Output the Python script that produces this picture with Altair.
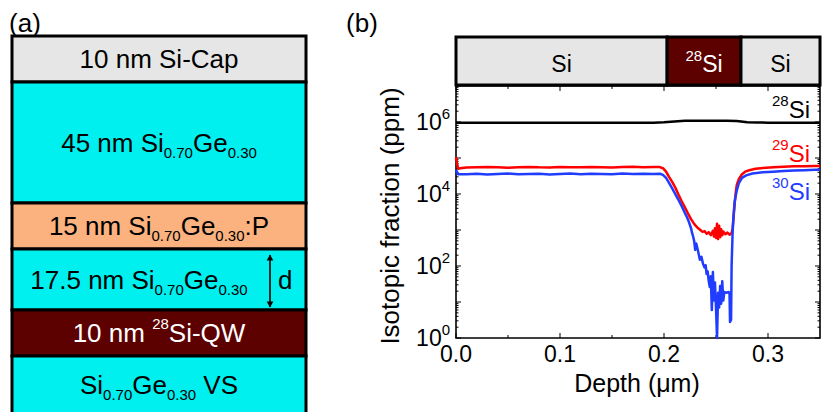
import altair as alt
import pandas as pd

FONT = "Liberation Sans"

# ------------------------------------------------------------------ data
# panel (a): layer stack (schematic thickness units, not to scale)
stack_units = [46, 121, 46, 61, 46, 58]
stack_fill = ["#e6e6e6", "#00f0f0", "#fbb27f", "#00f0f0", "#5c0000", "#00f0f0"]
stack_text_color = ["black", "black", "black", "black", "white", "black"]
stack_labels = [
    [("10 nm Si-Cap", "n")],
    [("45 nm Si", "n"), ("0.70", "sub"), ("Ge", "n"), ("0.30", "sub")],
    [("15 nm Si", "n"), ("0.70", "sub"), ("Ge", "n"), ("0.30", "sub"), (":P", "n")],
    [("17.5 nm Si", "n"), ("0.70", "sub"), ("Ge", "n"), ("0.30", "sub")],
    [("10 nm ", "n"), ("28", "sup"), ("Si-QW", "n")],
    [("Si", "n"), ("0.70", "sub"), ("Ge", "n"), ("0.30", "sub"), (" VS", "n")],
]
d_layer = 3  # the layer marked with the "d" arrow

# panel (b): top bar
bar_start = [0.0, 0.203, 0.274]
bar_end = [0.203, 0.274, 0.35]
bar_fill = ["#e6e6e6", "#5c0000", "#e6e6e6"]
bar_text_color = ["black", "white", "black"]
bar_labels = [[("Si", "n")], [("28", "sup"), ("Si", "n")], [("Si", "n")]]

# axes
x_major = [0.0, 0.1, 0.2, 0.3]
x_minor = [0.05, 0.15, 0.25]
x_tick_labels = ["0.0", "0.1", "0.2", "0.3"]
y_decades = [0, 1, 2, 3, 4, 5, 6, 7]
y_label_decades = [0, 2, 4, 6]

# depth profiles (ppm)
depth_28 = [0.000, 0.050, 0.100, 0.150, 0.190, 0.200, 0.210, 0.220, 0.240,
            0.260, 0.270, 0.280, 0.290, 0.300, 0.320, 0.340, 0.350]
ppm_28 = [960000, 960000, 955000, 960000, 960000, 985000, 1040000, 1080000, 1090000,
          1090000, 1060000, 990000, 965000, 960000, 960000, 955000, 950000]

depth_29 = [0.000, 0.001, 0.002, 0.004, 0.010, 0.020, 0.030, 0.040, 0.050, 0.060,
            0.070, 0.080, 0.090, 0.100, 0.110, 0.120, 0.130, 0.140, 0.150, 0.160,
            0.170, 0.180, 0.190, 0.196, 0.199, 0.202, 0.205, 0.208, 0.211, 0.214,
            0.217, 0.220, 0.223, 0.226, 0.229, 0.232, 0.235, 0.237, 0.239, 0.241,
            0.243, 0.245, 0.247, 0.248, 0.249, 0.250, 0.251, 0.252, 0.253, 0.254,
            0.255, 0.256, 0.257, 0.259, 0.261, 0.263, 0.265, 0.266, 0.267, 0.268,
            0.269, 0.270, 0.272, 0.275, 0.278, 0.282, 0.288, 0.295, 0.305, 0.315,
            0.325, 0.335, 0.345, 0.350]
ppm_29 = [107000, 71000, 50000, 52000, 54500, 55500, 56000, 55000, 54000, 55500,
          56500, 55000, 54500, 56000, 55500, 55000, 56500, 55500, 54500, 56000,
          57000, 55500, 56000, 56000, 52000, 42000, 29500, 21400, 14800, 9500,
          6300, 4300, 2900, 2000, 1480, 1170, 1000, 890, 930, 790,
          870, 720, 950, 660, 1120, 600, 1500, 560, 1320, 630,
          1050, 710, 910, 760, 850, 740, 830, 1120, 2500, 5600,
          11200, 17800, 26300, 35500, 41700, 45700, 50100, 52500, 55000, 57500,
          59000, 59000, 60000, 60000]

depth_30 = [0.000, 0.001, 0.002, 0.004, 0.010, 0.020, 0.030, 0.040, 0.050, 0.060,
            0.070, 0.080, 0.090, 0.100, 0.110, 0.120, 0.130, 0.140, 0.150, 0.160,
            0.170, 0.180, 0.190, 0.196, 0.199, 0.202, 0.205, 0.208, 0.211, 0.214,
            0.217, 0.220, 0.222, 0.224, 0.226, 0.227, 0.228, 0.229, 0.230, 0.231,
            0.232, 0.233, 0.2345, 0.236, 0.2375, 0.239, 0.240, 0.241, 0.242, 0.243,
            0.244, 0.245, 0.246, 0.247, 0.248, 0.249, 0.250, 0.251, 0.252, 0.253,
            0.254, 0.255, 0.256, 0.257, 0.258, 0.260, 0.262, 0.263, 0.2635, 0.2645,
            0.265, 0.266, 0.267, 0.268, 0.270, 0.272, 0.275, 0.279, 0.285, 0.295,
            0.305, 0.315, 0.325, 0.335, 0.345, 0.350]
ppm_30 = [47000, 40000, 35500, 35500, 35500, 36500, 35000, 36000, 37000, 35500,
          36000, 36500, 35000, 36000, 37000, 35500, 36500, 36000, 35500, 37000,
          36000, 36500, 36000, 36500, 34000, 28000, 20000, 14100, 9800, 6800,
          4600, 3000, 2300, 1660, 1120, 830, 660, 500, 280, 420,
          320, 240, 150, 180, 115, 91, 105, 60, 71, 38,
          26, 52, 6, 68, 11, 35, 7, 1, 18, 7,
          28, 9, 38, 11, 19, 18, 19, 18, 2.8, 3.2,
          100, 890, 2800, 6300, 12600, 20000, 28000, 33000, 37000, 40000,
          41700, 43600, 44700, 45700, 46800, 46800]

series = [("28", depth_28, ppm_28, "black"),
          ("29", depth_29, ppm_29, "#ff0000"),
          ("30", depth_30, ppm_30, "#1f3cff")]

# ------------------------------------------------------------------ layout
A_X = [4, 298]
A_Y = [28, 406]
B_X = [448, 812]
B_Y = [330, 78]
BAR_Y = [29, 77]

AX = alt.Scale(domain=[0, A_X[1] - A_X[0]], range=A_X, nice=False, zero=False)
AY = alt.Scale(domain=[0, sum(stack_units)], range=A_Y, nice=False, zero=False)
BX = alt.Scale(domain=[bar_start[0], bar_end[-1]], range=B_X, nice=False, zero=False)
BY = alt.Scale(type="log", domain=[10 ** y_decades[0], 10 ** y_decades[-1]],
               range=B_Y, nice=False)

PX_PER_DEPTH = (B_X[1] - B_X[0]) / (bar_end[-1] - bar_start[0])
PX_PER_DEC = (B_Y[0] - B_Y[1]) / (y_decades[-1] - y_decades[0])


def depth_at(px):
    return bar_start[0] + (px - B_X[0]) / PX_PER_DEPTH


def depth_px(d):
    return B_X[0] + (d - bar_start[0]) * PX_PER_DEPTH


def ppm_at(py):
    return 10 ** (y_decades[0] + (B_Y[0] - py) / PX_PER_DEC)


# Arial / Liberation Sans advance widths (1/1000 em)
WID = {" ": 278, "(": 333, ")": 333, "-": 333, ".": 278, ":": 278, "I": 278,
       "C": 722, "D": 722, "G": 778, "P": 667, "Q": 778, "S": 667, "V": 667,
       "W": 944, "a": 556, "b": 556, "c": 500, "d": 556, "e": 556, "f": 278,
       "h": 556, "i": 222, "m": 833, "n": 556, "o": 556, "p": 556, "r": 333,
       "s": 500, "t": 278, "\u03bc": 576}
for _d in "0123456789":
    WID[_d] = 556


def tw(t, size):
    return sum(WID.get(c, 556) for c in t) * size / 1000.0


def rich(segs, size, small, align):
    out = []
    x = 0.0
    for text, kind in segs:
        fs = size if kind == "n" else small
        dy = 0.0 if kind == "n" else (0.23 * size if kind == "sub" else -0.5 * size)
        lead = len(text) - len(text.lstrip(" "))
        x += tw(" " * lead, fs)
        body = text.strip(" ")
        out.append([x, dy, body, fs])
        x += tw(text[lead:], fs)
    shift = {"left": 0.0, "center": -x / 2.0, "right": -x}[align]
    for o in out:
        o[0] += shift
    return out


def text_layer(rows, xs, ys):
    df = pd.DataFrame(rows)
    return alt.Chart(df).mark_text(font=FONT, align="left", baseline="alphabetic").encode(
        x=alt.X("x:Q", scale=xs, axis=None),
        y=alt.Y("y:Q", scale=ys, axis=None),
        text="text:N",
        size=alt.Size("size:Q", scale=None, legend=None),
        color=alt.Color("color:N", scale=None, legend=None),
    )


layers = []

# ------------------------------------------------------------------ panel (a)
tops, bots = [], []
acc = 0
for u in stack_units:
    tops.append(acc)
    acc += u
    bots.append(acc)
A_W = A_X[1] - A_X[0]
stack_df = pd.DataFrame({"x": [0] * len(stack_units), "x2": [A_W] * len(stack_units),
                         "y": tops, "y2": bots, "fill": stack_fill})
layers.append(alt.Chart(stack_df).mark_rect(stroke="black", strokeWidth=3).encode(
    x=alt.X("x:Q", scale=AX, axis=None), x2="x2:Q",
    y=alt.Y("y:Q", scale=AY, axis=None), y2="y2:Q",
    fill=alt.Fill("fill:N", scale=None, legend=None)))

S_A, s_A = 26, 15
rows_a = []
for i in range(len(stack_units)):
    mid = (tops[i] + bots[i]) / 2.0
    cx = A_W / 2.0 - (20 if i == d_layer else 0)
    for dx, dy, t, fs in rich(stack_labels[i], S_A, s_A, "center"):
        rows_a.append(dict(x=cx + dx, y=mid + 0.358 * S_A + dy, text=t, size=fs,
                           color=stack_text_color[i]))
# "d" label
mid_d = (tops[d_layer] + bots[d_layer]) / 2.0
rows_a.append(dict(x=A_W - 28, y=mid_d + 0.358 * S_A, text="d", size=S_A, color="black"))
# "(a)"
for dx, dy, t, fs in rich([("(a)", "n")], 26, 26, "center"):
    rows_a.append(dict(x=13 + dx, y=-4 + dy, text=t, size=fs, color="black"))

# double arrow
arrow_x = A_W - 36
arr_df = pd.DataFrame({"x": [arrow_x], "y": [tops[d_layer] + 6], "y2": [bots[d_layer] - 3]})
layers.append(alt.Chart(arr_df).mark_rule(color="black", strokeWidth=1.6).encode(
    x=alt.X("x:Q", scale=AX, axis=None), y=alt.Y("y:Q", scale=AY, axis=None), y2="y2:Q"))
head_df = pd.DataFrame({"x": [arrow_x, arrow_x],
                        "y": [tops[d_layer] + 8.5, bots[d_layer] - 5.5],
                        "shape": ["triangle-up", "triangle-down"]})
layers.append(alt.Chart(head_df).mark_point(filled=True, color="black", size=45, opacity=1).encode(
    x=alt.X("x:Q", scale=AX, axis=None), y=alt.Y("y:Q", scale=AY, axis=None),
    shape=alt.Shape("shape:N", scale=None, legend=None)))

layers.append(text_layer(rows_a, AX, AY))

# ------------------------------------------------------------------ panel (b)
frame_df = pd.DataFrame({"x": [bar_start[0]], "x2": [bar_end[-1]]})
layers.append(alt.Chart(frame_df).mark_rect(fillOpacity=0, stroke="black", strokeWidth=1.6).encode(
    x=alt.X("x:Q", scale=BX, axis=None), x2="x2:Q",
    y=alt.value(B_Y[1]), y2=alt.value(B_Y[0])))


def xticks(vals, length):
    d = pd.DataFrame({"depth": vals})
    out = []
    for y0, y1 in [(B_Y[0], B_Y[0] - length), (B_Y[1], B_Y[1] + length)]:
        out.append(alt.Chart(d).mark_rule(color="black", strokeWidth=1).encode(
            x=alt.X("depth:Q", scale=BX, axis=None), y=alt.value(y0), y2=alt.value(y1)))
    return out


def yticks(vals, length):
    d = pd.DataFrame({"ppm": vals})
    out = []
    for x0, x1 in [(B_X[0], B_X[0] + length), (B_X[1], B_X[1] - length)]:
        out.append(alt.Chart(d).mark_rule(color="black", strokeWidth=1).encode(
            y=alt.Y("ppm:Q", scale=BY, axis=None), x=alt.value(x0), x2=alt.value(x1)))
    return out


layers += xticks(x_major, 5)
layers += xticks(x_minor, 3)
layers += yticks([10 ** k for k in y_decades], 5)
layers += yticks([m * 10 ** k for k in y_decades[:-1] for m in range(2, 10)], 2.5)

for name, dep, val, col in series:
    assert len(dep) == len(val)
    df = pd.DataFrame({"depth": dep, "ppm": val})
    layers.append(alt.Chart(df).mark_line(color=col, strokeWidth=2.5, interpolate="linear",
                                          strokeJoin="round").encode(
        x=alt.X("depth:Q", scale=BX, axis=None),
        y=alt.Y("ppm:Q", scale=BY, axis=None)))

# top bar
bar_df = pd.DataFrame({"x": bar_start, "x2": bar_end, "fill": bar_fill})
layers.append(alt.Chart(bar_df).mark_rect(stroke="black", strokeWidth=3).encode(
    x=alt.X("x:Q", scale=BX, axis=None), x2="x2:Q",
    y=alt.value(BAR_Y[0]), y2=alt.value(BAR_Y[1]),
    fill=alt.Fill("fill:N", scale=None, legend=None)))

rows_b = []


def add_b(segs, size, small, align, ax_px, base_py, color):
    for dx, dy, t, fs in rich(segs, size, small, align):
        rows_b.append(dict(x=depth_at(ax_px + dx), y=ppm_at(base_py + dy), text=t,
                           size=fs, color=color))


for i in range(len(bar_start)):
    cpx = depth_px((bar_start[i] + bar_end[i]) / 2.0)
    add_b(bar_labels[i], 23, 15, "center", cpx, 64, bar_text_color[i])

# series labels
label_base = {"28": 110, "29": 154, "30": 192}
for name, dep, val, col in series:
    add_b([(name, "sup"), ("Si", "n")], 24, 15, "right", B_X[1] - 10, label_base[name], col)

# y tick labels
for k in y_label_decades:
    tick_py = B_Y[0] - (k - y_decades[0]) * PX_PER_DEC
    add_b([("10", "n"), (str(k), "sup")], 23, 15, "right", B_X[0] - 6, tick_py + 8, "black")

# x tick labels
for v, lab in zip(x_major, x_tick_labels):
    add_b([(lab, "n")], 23, 23, "center", depth_px(v), B_Y[0] + 24, "black")

# x title
add_b([("Depth (\u03bcm)", "n")], 25, 25, "center", 629, B_Y[0] + 54, "black")
# "(b)"
add_b([("(b)", "n")], 26, 26, "center", 354, 24, "black")

layers.append(text_layer(rows_b, BX, BY))

# y title (rotated)
ytitle_df = pd.DataFrame({"x": [depth_at(383)], "y": [ppm_at(208)],
                          "text": ["Isotopic fraction (ppm)"]})
layers.append(alt.Chart(ytitle_df).mark_text(
    font=FONT, fontSize=26, angle=270, align="center", baseline="middle", color="black").encode(
    x=alt.X("x:Q", scale=BX, axis=None), y=alt.Y("y:Q", scale=BY, axis=None), text="text:N"))

chart = alt.layer(*layers).resolve_scale(
    x="independent", y="independent"
).properties(
    width=814, height=404, padding=0,
    autosize=alt.AutoSizeParams(type="none"),
).configure_view(stroke=None)

chart.save("out.html", embed_options={"renderer": "svg", "actions": False})
